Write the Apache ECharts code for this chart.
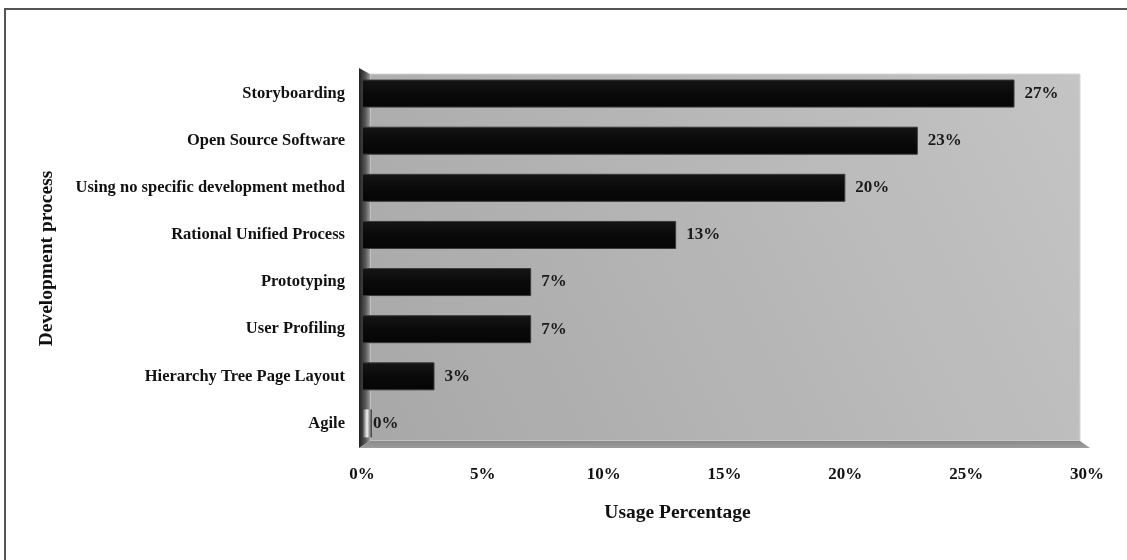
<!DOCTYPE html>
<html>
<head>
<meta charset="utf-8">
<title>Development process usage</title>
<script src="https://cdn.jsdelivr.net/npm/echarts@6/dist/echarts.min.js"></script>
<style>
  html, body { margin: 0; padding: 0; background: #ffffff; }
  #chart { width: 1127px; height: 560px; }
</style>
</head>
<body>
<div id="chart"></div>
<script>
// Development processes, listed top to bottom
const categories = [
  'Storyboarding',
  'Open Source Software',
  'Using no specific development method',
  'Rational Unified Process',
  'Prototyping',
  'User Profiling',
  'Hierarchy Tree Page Layout',
  'Agile'
];
// Share of respondents using each process (%)
const usage = [27, 23, 20, 13, 7, 7, 3, 0];
// Value axis ticks (%)
const axisMin = 0;
const axisMax = 30;
const axisStep = 5;

const FONT = '"Liberation Serif", "Times New Roman", serif';

// Plot box
const G = { left: 362, top: 70, right: 40, bottom: 113 };
const W = 1127, H = 560;
const gx0 = G.left, gx1 = W - G.right, gy0 = G.top, gy1 = H - G.bottom;

const chart = echarts.init(document.getElementById('chart'), null, { renderer: 'canvas' });

const barData = usage.map(function (v) {
  if (v === 0) {
    return {
      value: v,
      itemStyle: {
        color: new echarts.graphic.LinearGradient(0, 0, 1, 0, [
          { offset: 0, color: '#2a2a2a' },
          { offset: 0.5, color: '#f4f4f4' },
          { offset: 1, color: '#3a3a3a' }
        ]),
        borderWidth: 0
      },
      label: { distance: 1 }
    };
  }
  return v;
});

chart.setOption({
  animation: false,
  backgroundColor: '#ffffff',
  graphic: [
    // outer frame
    {
      type: 'rect', z: -10, silent: true,
      shape: { x: 5, y: 9, width: 1300, height: 700 },
      style: { fill: 'none', stroke: '#555555', lineWidth: 2 }
    },
    // back wall
    {
      type: 'rect', z: -5, silent: true,
      shape: { x: gx0 + 8, y: gy0 + 4, width: gx1 - gx0 - 15, height: gy1 - gy0 - 10 },
      style: {
        fill: new echarts.graphic.LinearGradient(1, 0, 0, 1, [
          { offset: 0, color: '#c4c4c4' },
          { offset: 1, color: '#a8a8a8' }
        ]),
        stroke: '#d6d6d6', lineWidth: 1
      }
    },
    // side wall
    {
      type: 'polygon', z: -4, silent: true,
      shape: { points: [[gx0 - 3, gy0 - 2], [gx0 + 8, gy0 + 4], [gx0 + 8, gy1 - 6], [gx0 - 3, gy1 + 1]] },
      style: {
        fill: new echarts.graphic.LinearGradient(0, 0, 1, 0, [
          { offset: 0, color: '#202020' },
          { offset: 0.6, color: '#5a5a5a' },
          { offset: 1, color: '#9a9a9a' }
        ])
      }
    },
    // floor
    {
      type: 'polygon', z: -4, silent: true,
      shape: { points: [[gx0 + 8, gy1 - 6], [gx1 - 7, gy1 - 6], [gx1 + 3, gy1 + 1], [gx0 - 3, gy1 + 1]] },
      style: {
        fill: new echarts.graphic.LinearGradient(0, 0, 0, 1, [
          { offset: 0, color: '#8a8a8a' },
          { offset: 1, color: '#9c9c9c' }
        ])
      }
    }
  ],
  grid: { left: G.left, top: G.top, right: G.right, bottom: G.bottom, containLabel: false },
  xAxis: {
    type: 'value',
    min: axisMin,
    max: axisMax,
    interval: axisStep,
    name: 'Usage Percentage',
    nameLocation: 'middle',
    nameGap: 56,
    nameTextStyle: {
      fontFamily: FONT, fontWeight: 'bold', fontSize: 19.5, color: '#111',
      padding: [0, 94, 0, 0]
    },
    axisLine: { show: false },
    axisTick: { show: false },
    splitLine: { show: false },
    axisLabel: {
      formatter: '{value}%',
      margin: 19,
      fontFamily: FONT, fontWeight: 'bold', fontSize: 17, color: '#111'
    }
  },
  yAxis: {
    type: 'category',
    data: categories,
    inverse: true,
    name: 'Development process',
    nameLocation: 'middle',
    nameGap: 305,
    nameRotate: 90,
    nameTextStyle: { fontFamily: FONT, fontWeight: 'bold', fontSize: 19.5, color: '#111' },
    axisLine: { show: false },
    axisTick: { show: false },
    axisLabel: {
      margin: 17,
      fontFamily: FONT, fontWeight: 'bold', fontSize: 16.5, color: '#111'
    }
  },
  series: [{
    type: 'bar',
    data: barData,
    barWidth: 28,
    barMinHeight: 10,
    itemStyle: {
      color: new echarts.graphic.LinearGradient(0, 0, 0, 1, [
        { offset: 0, color: '#151515' },
        { offset: 0.5, color: '#0a0a0a' },
        { offset: 1, color: '#050505' }
      ]),
      borderColor: '#3a3a3a',
      borderWidth: 1
    },
    label: {
      show: true,
      position: 'right',
      distance: 10,
      formatter: '{c}%',
      fontFamily: FONT, fontWeight: 'bold', fontSize: 17, color: '#1a1a1a'
    }
  }]
});
</script>
</body>
</html>
